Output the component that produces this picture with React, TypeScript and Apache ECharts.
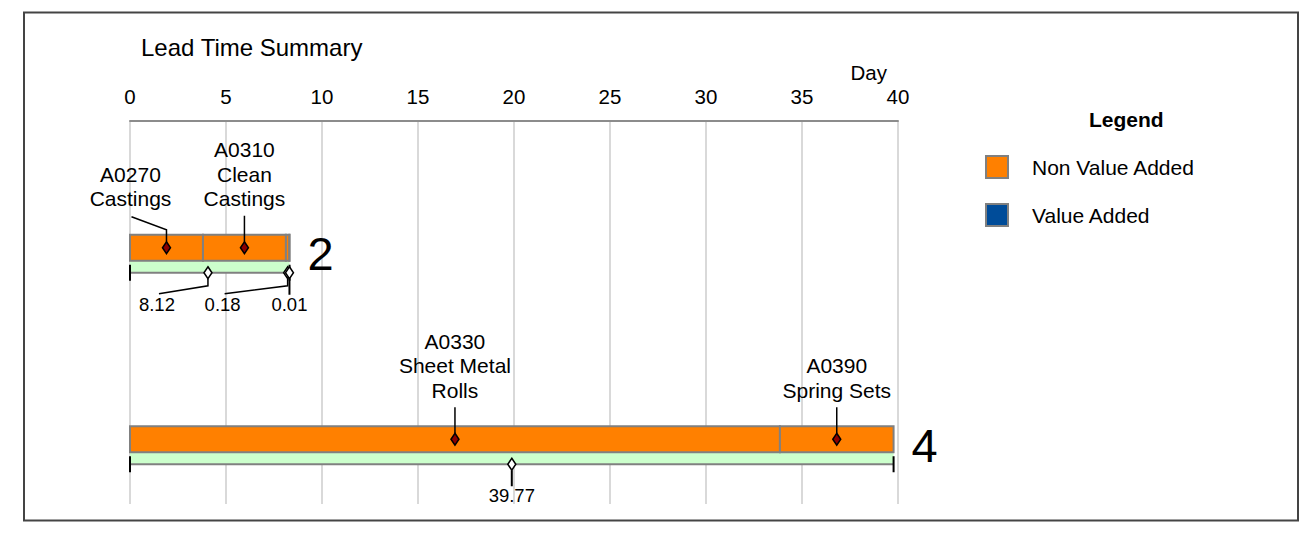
import React, { useEffect, useRef } from "react";
import * as echarts from "echarts";

// ---- data ----
const rows = ["2", "4"];
const activityLabels = ["A0270\nCastings", "A0310\nClean\nCastings", "", "A0330\nSheet Metal\nRolls", "A0390\nSpring Sets"];
const activityRows = [0, 0, 0, 1, 1];
const activityDays = [3.8, 4.32, 0.18, 33.85, 5.92];
const valueAddedRows = [0];
const valueAddedDays = [0.01];
const leadRows = [0, 0, 0, 1];
const leadDays = [8.12, 0.18, 0.01, 39.77];
const dayMin = 0;
const dayMax = 40;
const dayInterval = 5;

// ---- layout / style ----
const activityLabelShift = [-36, 0, 0, 0, 0];
const leadLabelShift = [-51, -65, 0, 0];
const FONT = "'Liberation Sans', Arial, sans-serif";
const ORANGE = "#ff8000";
const BLUE = "#004c99";
const GREEN = "#ccffcc";
const GRAY = "#808080";
const BAR_OFFSET = 31;

function stackRows(rowIdx: number[], days: number[], base: number[]) {
  const cum = base.slice();
  return rowIdx.map((r, i) => {
    const s = cum[r];
    const e = s + days[i];
    cum[r] = e;
    return [r, s, e];
  });
}

const zeros = rows.map(() => 0);
const nvaData = stackRows(activityRows, activityDays, zeros);
const nvaTotals = rows.map((_, r) =>
  activityDays.reduce((a, d, i) => (activityRows[i] === r ? a + d : a), 0)
);
const vaData = stackRows(valueAddedRows, valueAddedDays, nvaTotals);
const leadData = stackRows(leadRows, leadDays, zeros);
const rowTotals = rows.map((_, r) =>
  leadDays.reduce((a, d, i) => (leadRows[i] === r ? a + d : a), 0)
);
const rowData = rows.map((_, r) => [r, 0, rowTotals[r]]);

function txt(text: string, x: number, y: number, size: number, align: string, valign: string, extra: any = {}) {
  return {
    type: "text",
    style: {
      text,
      x,
      y,
      fontSize: size,
      fontFamily: FONT,
      fill: "#000",
      align,
      verticalAlign: valign,
      textAlign: align,
      textVerticalAlign: valign,
      ...extra,
    },
  };
}

function segRender(color: string, withLabels: boolean) {
  return (params: any, api: any) => {
    const row = api.value(0);
    const p0 = api.coord([api.value(1), row]);
    const p1 = api.coord([api.value(2), row]);
    const R = p0[1] + BAR_OFFSET;
    const children: any[] = [
      {
        type: "rect",
        shape: { x: p0[0], y: R - 13, width: Math.max(p1[0] - p0[0], 0.2), height: 26 },
        style: { fill: color, stroke: GRAY, lineWidth: 2 },
      },
    ];
    if (withLabels) {
      const label = activityLabels[params.dataIndex];
      if (label) {
        const mx = (p0[0] + p1[0]) / 2;
        const lx = mx + activityLabelShift[params.dataIndex];
        if (lx !== mx) {
          children.push({
            type: "polyline",
            shape: { points: [[lx + 1, R - 31], [mx, R - 18], [mx, R - 6]] },
            style: { stroke: "#000", lineWidth: 1.5, fill: null },
          });
        } else {
          children.push({
            type: "line",
            shape: { x1: mx, y1: R - 32, x2: mx, y2: R - 6 },
            style: { stroke: "#000", lineWidth: 1.5 },
          });
        }
        children.push({
          type: "polygon",
          shape: { points: [[mx, R - 6], [mx + 4, R], [mx, R + 6], [mx - 4, R]] },
          style: { fill: "#8b0000", stroke: "#000", lineWidth: 1.5 },
        });
        children.push(txt(label, lx, R - 37, 21, "center", "bottom", { lineHeight: 24.5 }));
      }
    }
    return { type: "group", children };
  };
}

function rowRender(params: any, api: any) {
  const row = api.value(0);
  const p0 = api.coord([api.value(1), row]);
  const p1 = api.coord([api.value(2), row]);
  const R = p0[1] + BAR_OFFSET;
  return {
    type: "group",
    children: [
      {
        type: "rect",
        shape: { x: p0[0], y: R + 13, width: p1[0] - p0[0], height: 12 },
        style: { fill: GREEN },
      },
      {
        type: "line",
        shape: { x1: p0[0], y1: R + 25, x2: p1[0], y2: R + 25 },
        style: { stroke: GRAY, lineWidth: 2 },
      },
      {
        type: "line",
        shape: { x1: p0[0], y1: R + 17, x2: p0[0], y2: R + 33 },
        style: { stroke: "#000", lineWidth: 2 },
      },
      {
        type: "line",
        shape: { x1: p1[0], y1: R + 17, x2: p1[0], y2: R + 33 },
        style: { stroke: "#000", lineWidth: 2 },
      },
      txt(rows[row], p1[0] + 18, R + 6, 47, "left", "middle"),
    ],
  };
}

function leadRender(params: any, api: any) {
  const row = api.value(0);
  const s = api.value(1);
  const e = api.value(2);
  const pm = api.coord([(s + e) / 2, row]);
  const mx = pm[0];
  const R = pm[1] + BAR_OFFSET;
  const lx = mx + leadLabelShift[params.dataIndex];
  const children: any[] = [];
  if (lx !== mx) {
    children.push({
      type: "polyline",
      shape: { points: [[mx, R + 31], [mx, R + 38], [lx + 2, R + 46]] },
      style: { stroke: "#000", lineWidth: 1.5, fill: null },
    });
  } else {
    children.push({
      type: "line",
      shape: { x1: mx, y1: R + 31, x2: mx, y2: R + 47 },
      style: { stroke: "#000", lineWidth: 2 },
    });
  }
  children.push({
    type: "polygon",
    shape: { points: [[mx, R + 19], [mx + 4, R + 25], [mx, R + 31], [mx - 4, R + 25]] },
    style: { fill: "#fff", stroke: "#000", lineWidth: 1.5 },
  });
  children.push(txt((e - s).toFixed(2), lx, R + 47, 18.5, "center", "top"));
  return { type: "group", children };
}

export default function App() {
  const ref = useRef<HTMLDivElement>(null);
  useEffect(() => {
    if (!ref.current) return;
    const chart = echarts.init(ref.current, undefined, { renderer: "svg" });
    chart.setOption({
      animation: false,
      backgroundColor: "#fff",
      textStyle: { fontFamily: FONT },
      title: [
        {
          text: "Lead Time Summary",
          left: 141,
          top: 35,
          padding: 0,
          textStyle: { fontSize: 24, fontWeight: "normal", color: "#000", fontFamily: FONT },
        },
        {
          text: "Legend",
          left: 1089,
          top: 109,
          padding: 0,
          textStyle: { fontSize: 21, fontWeight: "bold", color: "#000", fontFamily: FONT },
        },
      ],
      legend: {
        data: ["Non Value Added", "Value Added"],
        orient: "vertical",
        left: 985,
        top: 155,
        padding: 0,
        itemWidth: 22,
        itemHeight: 22,
        itemGap: 24,
        icon: "rect",
        selectedMode: false,
        itemStyle: { borderColor: GRAY, borderWidth: 2 },
        textStyle: { fontSize: 21, color: "#000", fontFamily: FONT, padding: [0, 0, 0, 19] },
      },
      grid: { left: 130, right: 402, top: 121, bottom: 33 },
      xAxis: {
        type: "value",
        position: "top",
        min: dayMin,
        max: dayMax,
        interval: dayInterval,
        axisLine: { show: true, lineStyle: { color: "#8c8c8c", width: 2 } },
        axisTick: { show: false },
        axisLabel: { fontSize: 20.5, color: "#000", margin: 14, fontFamily: FONT },
        splitLine: { show: true, lineStyle: { color: "#d9d9d9", width: 2 } },
      },
      yAxis: {
        type: "category",
        data: rows,
        inverse: true,
        show: false,
      },
      graphic: [
        {
          type: "rect",
          shape: { x: 24, y: 12.5, width: 1274, height: 508 },
          style: { fill: "rgba(0,0,0,0)", stroke: "#444", lineWidth: 2 },
          z: 100,
        },
        {
          type: "text",
          x: 887,
          y: 72,
          style: {
            text: "Day",
            fontSize: 20.5,
            fontFamily: FONT,
            fill: "#000",
            align: "right",
            verticalAlign: "middle",
            textAlign: "right",
            textVerticalAlign: "middle",
          },
        },
      ],
      series: [
        {
          name: "Lead Time",
          type: "custom",
          data: rowData,
          encode: { x: [1, 2], y: 0 },
          renderItem: rowRender,
          z: 2,
        },
        {
          name: "Non Value Added",
          type: "custom",
          data: nvaData,
          encode: { x: [1, 2], y: 0 },
          itemStyle: { color: ORANGE },
          renderItem: segRender(ORANGE, true),
          z: 3,
        },
        {
          name: "Value Added",
          type: "custom",
          data: vaData,
          encode: { x: [1, 2], y: 0 },
          itemStyle: { color: BLUE },
          renderItem: segRender(BLUE, false),
          z: 3,
        },
        {
          name: "Lead Markers",
          type: "custom",
          data: leadData,
          encode: { x: [1, 2], y: 0 },
          renderItem: leadRender,
          z: 4,
        },
      ],
    });
    return () => chart.dispose();
  }, []);
  return (
    <div
      ref={ref}
      style={{ position: "fixed", left: 0, top: 0, width: 1300, height: 537, background: "#fff" }}
    />
  );
}
